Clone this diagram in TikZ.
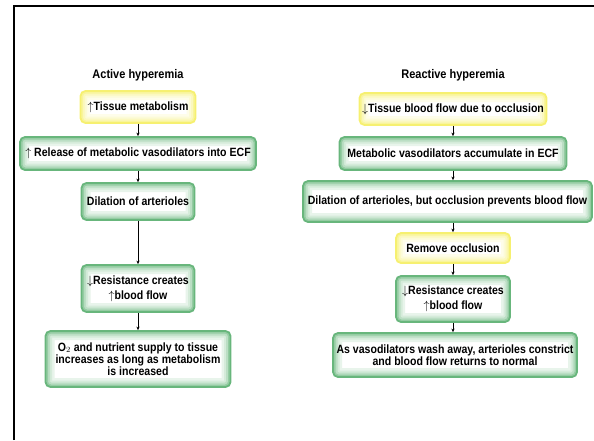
\documentclass[tikz,border=0pt]{standalone}
\usepackage{fontspec}
\setmainfont[FakeStretch=0.88]{Liberation Sans}
\usetikzlibrary{arrows.meta}
\definecolor{boxgreen}{RGB}{104,182,124}
\definecolor{boxyellow}{RGB}{246,240,112}

\begin{document}
\begin{tikzpicture}[x=1pt, y=-1pt,
    glowbox/.style={draw=#1, line width=1.8pt, rounded corners=5pt, fill=white,
        align=center, inner sep=1pt, font=\bfseries\fontsize{12}{15}\selectfont,
        path picture={
            \foreach \w/\s in {18/15, 13/28, 9/45, 5/70}
                \draw[#1!\s, line width=\w pt]
                    (path picture bounding box.south west) rectangle
                    (path picture bounding box.north east);
        }},
    greenbox/.style={glowbox=boxgreen},
    yellowbox/.style={glowbox=boxyellow},
    tight/.style={font=\bfseries\fontsize{12}{10}\selectfont},
    title/.style={font=\bfseries\fontsize{12.5}{14}\selectfont},
    flow/.style={-{Stealth[length=3.5pt, width=3.2pt]}, line width=0.9pt}]

    \useasboundingbox (0,0) rectangle (594,440);

    % Frame
    \draw[line width=2pt] (14,440) -- (14,6) -- (594,6);

    % Active hyperemia
    \node[title] (atitle) at (138,75) {Active hyperemia};
    \node[yellowbox, minimum width=115, minimum height=32] (ameta) at (138,107)
        {$\uparrow$Tissue metabolism};
    \node[greenbox, minimum width=236, minimum height=33] (arelease) at (138,153.5)
        {$\uparrow$ Release of metabolic vasodilators into ECF};
    \node[greenbox, minimum width=113, minimum height=37] (adilate) at (138,201.5)
        {Dilation of arterioles};
    \node[greenbox, minimum width=113, minimum height=47] (aresist) at (138,288.5)
        {$\downarrow$Resistance creates\\$\uparrow$blood flow};
    \node[greenbox, tight, minimum width=185, minimum height=56] (asupply) at (138,359)
        {O$_2$ and nutrient supply to tissue\\increases as long as metabolism\\is increased};

    \draw[flow] (ameta) -- (arelease);
    \draw[flow] (arelease) -- (adilate);
    \draw[flow] (adilate) -- (aresist);
    \draw[flow] (aresist) -- (asupply);

    % Reactive hyperemia
    \node[title] (rtitle) at (453,75) {Reactive hyperemia};
    \node[yellowbox, minimum width=187, minimum height=32] (rflow) at (453,109)
        {$\downarrow$Tissue blood flow due to occlusion};
    \node[greenbox, minimum width=227, minimum height=33] (raccum) at (453,153.5)
        {Metabolic vasodilators accumulate in ECF};
    \node[greenbox, minimum width=289, minimum height=41] (rdilate) at (447.5,201.5)
        {Dilation of arterioles, but occlusion prevents blood flow};
    \node[yellowbox, minimum width=114, minimum height=30] (rremove) at (453,248)
        {Remove occlusion};
    \node[greenbox, minimum width=114, minimum height=46] (rresist) at (453,299)
        {$\downarrow$Resistance creates\\$\uparrow$blood flow};
    \node[greenbox, tight, minimum width=244, minimum height=44] (rnormal) at (455,355)
        {As vasodilators wash away, arterioles constrict\\and blood flow returns to normal};

    \draw[flow] (rflow) -- (raccum);
    \draw[flow] (raccum.south) -- (raccum.south |- rdilate.north);
    \draw[flow] (rremove.north |- rdilate.south) -- (rremove.north);
    \draw[flow] (rremove) -- (rresist);
    \draw[flow] (rresist.south) -- (rresist.south |- rnormal.north);

\end{tikzpicture}
\end{document}
